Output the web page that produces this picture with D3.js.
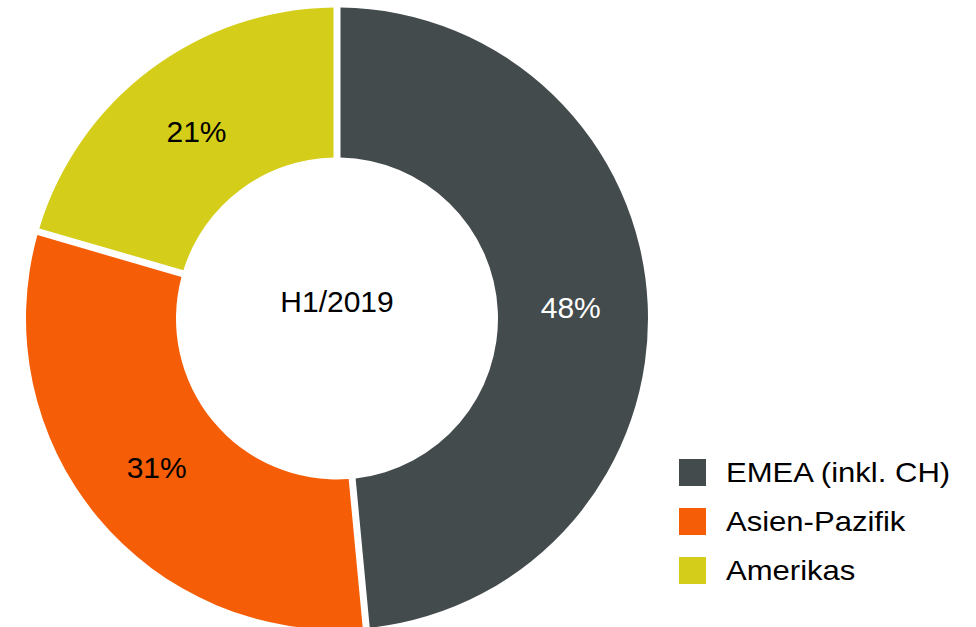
<!DOCTYPE html>
<html>
<head>
<meta charset="utf-8">
<script src="https://cdn.jsdelivr.net/npm/d3@7"></script>
<style>
  body { margin: 0; background: #fff; }
  text { font-family: "Liberation Sans", Arial, sans-serif; }
</style>
</head>
<body>
<div id="donut"></div>
<script>
// Data (share of sales, H1/2019)
var regions = ["EMEA (inkl. CH)", "Asien-Pazifik", "Amerikas"];
var shares  = [48.5, 31.0, 20.5];
var shareLabels = ["48%", "31%", "21%"];
var centerLabel = "H1/2019";

// Config
var config = {
  "width": 976,
  "height": 627,
  "cx": 337,
  "cy": 318.5,
  "outer_radius": 311,
  "inner_radius": 161,
  "label_radius": 234,
  "gap": 7,
  "colors": ["#434b4d", "#f55d06", "#d4cd19"],
  "label_colors": ["#ffffff", "#000000", "#000000"],
  "legend_x": 679,
  "legend_y": 459,
  "legend_step": 49,
  "legend_box": 27
};

var svg = d3.select("#donut")
  .append("svg")
    .attr("width", config.width)
    .attr("height", config.height);

var g = svg.append("g")
  .attr("transform", "translate(" + config.cx + "," + config.cy + ")");

var pie = d3.pie()
  .sort(null)
  .value(function(d) { return d; });

var arc = d3.arc()
  .innerRadius(config.inner_radius)
  .outerRadius(config.outer_radius)
  .padRadius(config.outer_radius)
  .padAngle(config.gap / config.outer_radius);

var labelArc = d3.arc()
  .innerRadius(config.label_radius)
  .outerRadius(config.label_radius);

var arcs = pie(shares);

// slices
g.selectAll("path.slice")
  .data(arcs)
  .enter()
  .append("path")
    .attr("class", "slice")
    .attr("d", arc)
    .style("fill", function(d, i) { return config.colors[i]; });

// percentage labels
g.selectAll("text.pct")
  .data(arcs)
  .enter()
  .append("text")
    .attr("class", "pct")
    .attr("transform", function(d) { return "translate(" + labelArc.centroid(d) + ")"; })
    .attr("text-anchor", "middle")
    .attr("dy", "0.35em")
    .style("font-size", "30px")
    .style("fill", function(d, i) { return config.label_colors[i]; })
    .text(function(d, i) { return shareLabels[i]; });

// centre label
g.append("text")
  .attr("text-anchor", "middle")
  .attr("y", -17)
  .attr("dy", "0.35em")
  .style("font-size", "30px")
  .style("fill", "#000")
  .text(centerLabel);

// legend
var legend = svg.append("g")
  .attr("class", "legend")
  .selectAll("g")
  .data(regions)
  .enter()
  .append("g")
    .attr("transform", function(d, i) {
      return "translate(" + config.legend_x + "," + (config.legend_y + i * config.legend_step) + ")";
    });

legend.append("rect")
  .attr("width", config.legend_box)
  .attr("height", config.legend_box)
  .style("fill", function(d, i) { return config.colors[i]; });

legend.append("text")
  .attr("transform", "translate(47," + (config.legend_box / 2) + ") scale(1.15,1)")
  .attr("dy", "0.35em")
  .style("font-size", "27px")
  .style("fill", "#000")
  .text(function(d) { return d; });
</script>
</body>
</html>
